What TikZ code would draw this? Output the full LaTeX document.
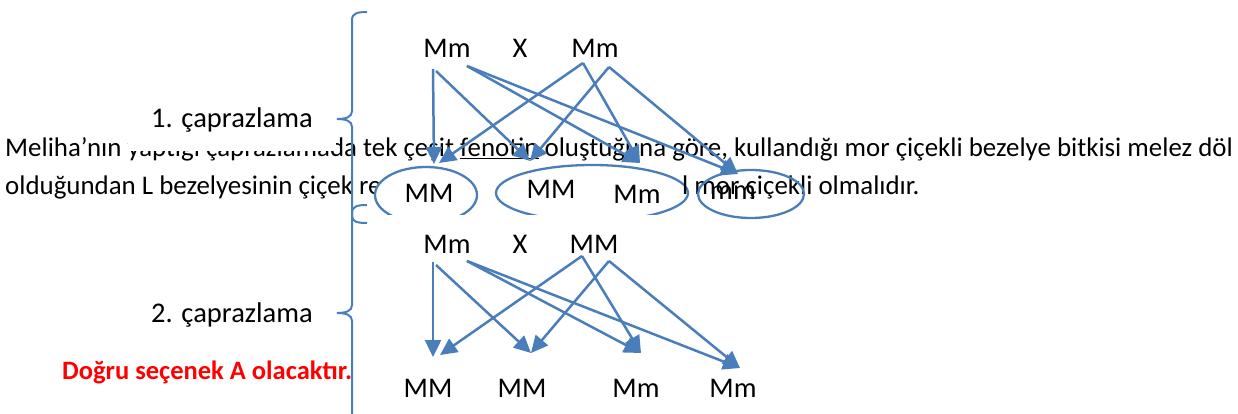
\documentclass[tikz,border=0pt]{standalone}
\usepackage{fontspec}
\setmainfont{Carlito}
\usetikzlibrary{arrows.meta}
\definecolor{ob}{RGB}{74,126,187}
\definecolor{rd}{RGB}{255,0,0}
\begin{document}
\begin{tikzpicture}[x=1pt,y=-1pt,
  txt/.style={inner sep=0pt, font=\fontsize{28.5}{34}\selectfont},
  para/.style={inner sep=0pt, anchor=base west, font=\fontsize{26.9}{32}\selectfont},
  gl/.style={txt, anchor=base},
  arr/.style={draw=ob, line width=2.5pt, -{Triangle[length=17pt,width=16pt]}},
  brc/.style={draw=ob, line width=2pt},
  ell/.style={draw=ob, line width=2.3pt, fill=white}]
\useasboundingbox[fill=white] (0,0) rectangle (1238,414);

% paragraph
\node[para] (line1) at (5,157) {Meliha’nın yaptığı çaprazlamada tek çeşit \underline{fenotin} oluştuğuna göre, kullandığı mor çiçekli bezelye bitkisi melez döl};
\node[para] (line2a) at (5,194) {olduğundan L bezelyesinin çiçek re};
% label box hiding part of line 1
\fill[white] (128,97) rectangle (336,151);
\node[gl] (lab1) at (232,128) {1. çaprazlama};
\node[gl] (lab2) at (232,322) {2. çaprazlama};
\node[inner sep=0pt, anchor=base west, text=rd, font=\fontsize{26.5}{32}\selectfont\bfseries] (ans) at (62,379) {Doğru seçenek A olacaktır.};

% braces
\draw[brc] (367,12) .. controls (358,12) and (352,13) .. (352,20) -- (352,111)
  .. controls (352,117) and (346,119) .. (337,119)
  .. controls (346,119) and (352,121) .. (352,127) -- (352,216)
  .. controls (352,222) and (358,223) .. (367,223);
\draw[brc] (367,205) .. controls (358,205) and (352,206) .. (352,213) -- (352,305)
  .. controls (352,311) and (346,313) .. (337,313)
  .. controls (346,313) and (352,315) .. (352,321) -- (352,430);

% ellipses of cross 1
\begin{scope}
\clip (360,150) rectangle (700,214);
\draw[ell] (426,195) ellipse [x radius=51pt, y radius=28pt];
\draw[ell] (592,193) ellipse [x radius=96pt, y radius=28pt];
\end{scope}
\node[para] (line2b) at (682,194) {l mor çiçekli olmalıdır.};
\draw[draw=ob, line width=2.3pt] (751,194) ellipse [x radius=53pt, y radius=24pt];

% cross 1 labels
\node[gl] (p1) at (447,58) {Mm};
\node[gl] (x1) at (520,58) {X};
\node[gl] (q1) at (595,58) {Mm};
\node[gl] (c1) at (429,202) {MM};
\node[gl] (c2) at (551,198) {MM};
\node[gl] (c3) at (637,203) {Mm};
\node[gl] (c4) at (733,200) {mm};

\coordinate (s1) at (433,69);
\coordinate (s2) at (436,71);
\coordinate (s3) at (467,66);
\coordinate (t1) at (583,63);
\coordinate (t2) at (609,67);
\coordinate (e1a) at (434,164);
\coordinate (e1b) at (439,163);
\coordinate (e2) at (530,161);
\coordinate (e3) at (640,163);
\coordinate (e4) at (738,174);
\draw[arr] (s1) -- (e1a);
\draw[arr] (s2) -- (e2);
\draw[arr] (s3) -- (e3);
\draw[arr] (s3) -- (e4);
\draw[arr] (t1) -- (e1b);
\draw[arr] (t1) -- (e3);
\draw[arr] (t2) -- (e2);
\draw[arr] (t2) -- (e4);

% cross 2
\node[gl] (p2) at (447,253) {Mm};
\node[gl] (x2) at (520,253) {X};
\node[gl] (q2) at (594,253) {MM};
\node[gl] (d1) at (428,397) {MM};
\node[gl] (d2) at (522,397) {MM};
\node[gl] (d3) at (636,397) {Mm};
\node[gl] (d4) at (733,397) {Mm};

\coordinate (u1) at (433,262);
\coordinate (u2) at (436,265);
\coordinate (u3) at (467,261);
\coordinate (v1) at (582,256);
\coordinate (v2) at (609,261);
\coordinate (f1a) at (433,357);
\coordinate (f1b) at (440,355);
\coordinate (f2) at (531,353);
\coordinate (f3) at (641,353);
\coordinate (f4) at (740,368);
\draw[arr] (u1) -- (f1a);
\draw[arr] (u2) -- (f2);
\draw[arr] (u3) -- (f3);
\draw[arr] (u3) -- (f4);
\draw[arr] (v1) -- (f1b);
\draw[arr] (v1) -- (f3);
\draw[arr] (v2) -- (f2);
\draw[arr] (v2) -- (f4);
\end{tikzpicture}
\end{document}
